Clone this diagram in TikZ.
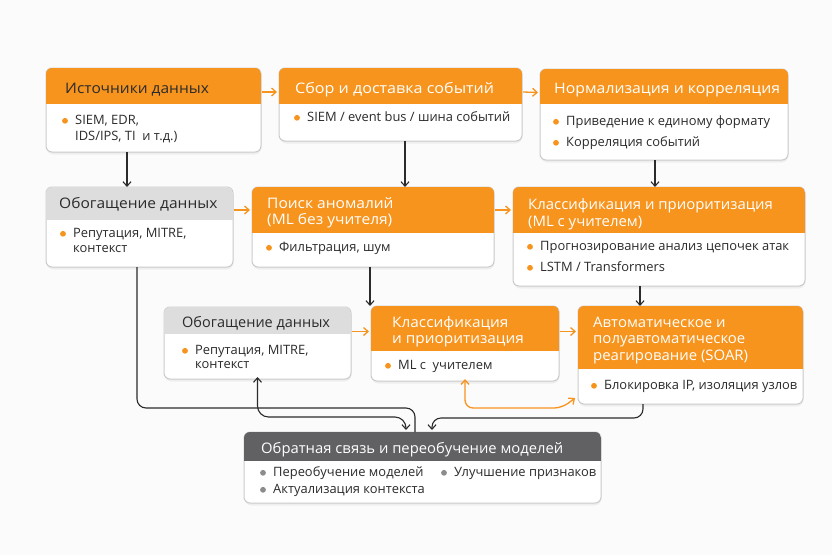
\documentclass[tikz,border=0pt]{standalone}
\usepackage{graphicx}
\usepackage{fontspec}
\setmainfont{Open Sans}
\usetikzlibrary{arrows.meta,calc}
\definecolor{org}{HTML}{F7941D}
\definecolor{lgr}{HTML}{DDDDDD}
\definecolor{dgr}{HTML}{616163}
\definecolor{brd}{HTML}{CBCBCD}
\definecolor{bgc}{HTML}{FBFBFB}
\definecolor{ink}{HTML}{2B2B2B}
\definecolor{gdot}{HTML}{8C8C8C}
\tikzset{
  cardbox/.style={shape=rectangle, inner sep=0pt, outer sep=0pt, anchor=north west},
  htxt/.style={anchor=west, inner sep=0pt, text height=10.4pt, text depth=0pt, font=\fontsize{14.5}{17}\selectfont},
  btxt/.style={anchor=west, inner sep=0pt, text height=9.2pt, text depth=0pt, text=ink, font=\fontsize{12.9}{15.5}\selectfont},
  barr/.style={draw=ink, line width=1.1pt, -{Straight Barb[length=4.5pt,width=8pt]}},
  bline/.style={draw=ink, line width=1.1pt},
  oarr/.style={draw=org, line width=1.3pt, -{Straight Barb[length=4.5pt,width=8pt]}},
}
\newcommand{\card}[7]{%
  \node[cardbox, minimum width={#4-#2}, minimum height={#6-#3}] (#1) at (#2,#3) {};
  \node[cardbox, minimum width={#4-#2}, minimum height={#5-#3}] (#1h) at (#2,#3) {};
  \fill[black, opacity=0.05, rounded corners=7pt] ([shift={(0.5,2.5)}]#1.north west) rectangle ([shift={(0.5,2.5)}]#1.south east);
  \fill[white, rounded corners=6pt] (#1.north west) rectangle (#1.south east);
  \draw[brd, line width=1pt, rounded corners=6pt] (#1.north west) rectangle (#1.south east);
  \begin{scope}
    \clip[rounded corners=6pt] (#1.north west) rectangle (#1.south east);
    \fill[#7] (#1h.north west) rectangle (#1h.south east);
  \end{scope}
}
% header line: name, x, y, xscale, colour, text
\newcommand{\hd}[6]{%
  \node[htxt, text=#5] (#1) at (#2,#3) {\scalebox{#4}[1]{#6}};
}
% bullet line: name, x, y, text, dot colour
\newcommand{\bl}[5]{%
  \fill[#5] (#2,#3+0.8) circle (2.9);
  \node[btxt] (#1) at (#2+10,#3) {#4};
}
% continuation line: name, x, y, text
\newcommand{\bc}[4]{%
  \node[btxt] (#1) at (#2+10,#3) {#4};
}
\begin{document}
\begin{tikzpicture}[x=1pt,y=-1pt]
\fill[bgc] (0,0) rectangle (832,555);
\useasboundingbox (0,0) rectangle (832,555);

% cards: name, left, top, right, header bottom, bottom, header colour
\card{src}{46}{68}{261}{104}{152}{org}
\card{col}{279}{68}{522}{104}{141}{org}
\card{nrm}{540}{69}{788}{104}{160}{org}
\card{enr}{46}{187}{233}{220}{267}{lgr}
\card{ano}{252}{187}{494}{233}{267}{org}
\card{cls}{513}{187}{805}{233}{286}{org}
\card{enb}{164}{307}{351}{334}{379}{lgr}
\card{clb}{371}{306}{559}{351}{381}{org}
\card{soar}{578}{306}{803}{369}{404}{org}
\card{fb}{244}{432}{601}{461}{503}{dgr}

% header texts
\hd{srct}{65}{88}{1.07}{ink}{Источники данных}
\hd{colt}{295}{88}{1.11}{white}{Сбор и доставка событий}
\hd{nrmt}{554}{88}{1.09}{white}{Нормализация и корреляция}
\hd{enrt}{59}{203}{1.07}{ink}{Обогащение данных}
\hd{anot}{267}{203}{1.07}{white}{Поиск аномалий}
\hd{anot2}{267}{219}{1.07}{white}{(ML без учителя)}
\hd{clst}{528}{204}{1.03}{white}{Классификация и приоритизация}
\hd{clst2}{528}{221}{1.03}{white}{(ML с учителем)}
\hd{enbt}{182}{322}{1.0}{ink}{Обогащение данных}
\hd{clbt}{392}{322}{1.06}{white}{Классификация}
\hd{clbt2}{392}{338}{1.06}{white}{и приоритизация}
\hd{soart}{593}{322}{1.03}{white}{Автоматическое и}
\hd{soart2}{593}{338}{1.03}{white}{полуавтоматическое}
\hd{soart3}{593}{355}{1.03}{white}{реагирование (SOAR)}
\hd{fbt}{261}{448}{1.02}{white}{Обратная связь и переобучение моделей}

% bullets
\bl{b1}{65}{120}{SIEM, EDR,}{org}
\bc{b1b}{65}{136}{IDS/IPS, TI\ \ и т.д.)}
\bl{b2}{297}{117}{SIEM / event bus / шина событий}{org}
\bl{b3}{556}{121}{Приведение к единому формату}{org}
\bl{b4}{556}{142}{Корреляция событий}{org}
\bl{b5}{63}{233}{Репутация, MITRE,}{org}
\bc{b5b}{63}{248}{контекст}
\bl{b6}{269}{247}{Фильтрация, шум}{org}
\bl{b7}{530}{246}{Прогнозирование анализ цепочек атак}{org}
\bl{b8}{530}{267}{LSTM / Transformers}{org}
\bl{b9}{185}{350}{Репутация, MITRE,}{org}
\bc{b9b}{185}{364}{контекст}
\bl{b10}{388}{365}{ML с\ \ учителем}{org}
\bl{b11}{594}{385}{Блокировка IP, изоляция узлов}{org}
\bl{b12}{263}{472}{Переобучение моделей}{gdot}
\bl{b13}{263}{489}{Актуализация контекста}{gdot}
\bl{b14}{444}{472}{Улучшение признаков}{gdot}

% orange horizontal connectors
\draw[oarr] ([shift={(1,6)}]srch.east) -- ([shift={(-2,6)}]colh.west);
\draw[oarr] ([shift={(1,6)}]colh.east) -- ([shift={(-2,6)}]nrmh.west);
\draw[oarr] ([xshift=1pt]enr.east |- anoh.west) -- ([xshift=-2pt]anoh.west);
\draw[oarr] ([xshift=1pt]anoh.east |- clsh.west) -- ([xshift=-2pt]clsh.west);
\draw[oarr] ([shift={(1,3)}]enb.east |- clbh.west) -- ([shift={(-2,3)}]clbh.west);
\draw[oarr] ([shift={(1,3)}]clbh.east) -- ([shift={(-2,3)}]clbh.east -| soar.west);

% black vertical connectors
\draw[barr] ([xshift=-26.5pt]src.south) -- ([xshift=-26.5pt]src.south |- enr.north);
\draw[barr] ([xshift=4.5pt]col.south) -- ([xshift=4.5pt]col.south |- ano.north);
\draw[barr] ([xshift=-9pt]nrm.south) -- ([xshift=-9pt]nrm.south |- cls.north);
\draw[barr] ([xshift=-3pt]ano.south) -- ([xshift=-3pt]ano.south |- clb.north);
\draw[barr] ([xshift=-19pt]cls.south) -- ([xshift=-19pt]cls.south |- soar.north);

% feedback loops
\draw[bline, rounded corners=9pt] ([xshift=-2.5pt]enr.south) -- ([shift={(-2.5,141)}]enr.south) -| ([xshift=-7.5pt]fb.north);
\draw[draw=ink, line width=1.1pt, {Straight Barb[length=4.5pt,width=8pt]}-{Straight Barb[length=4.5pt,width=8pt]}, rounded corners=11pt]
  ([yshift=2pt]enb.south) |- ([shift={(-16.5,-15)}]fb.north) -- ([shift={(-16.5,-2)}]fb.north);
\draw[barr, rounded corners=9pt] ([xshift=-47.5pt]soar.south) |- ([shift={(9.5,-14)}]fb.north) -- ([shift={(9.5,-2)}]fb.north);
\draw[draw=org, line width=1.3pt, {Straight Barb[length=4.5pt,width=8pt]}-{Straight Barb[length=4.5pt,width=8pt]}, rounded corners=8pt]
  ([yshift=2pt]clb.south) |- ([shift={(-16,4)}]soar.south west) -- ([shift={(-3,-6)}]soar.south west);
\end{tikzpicture}
\end{document}
